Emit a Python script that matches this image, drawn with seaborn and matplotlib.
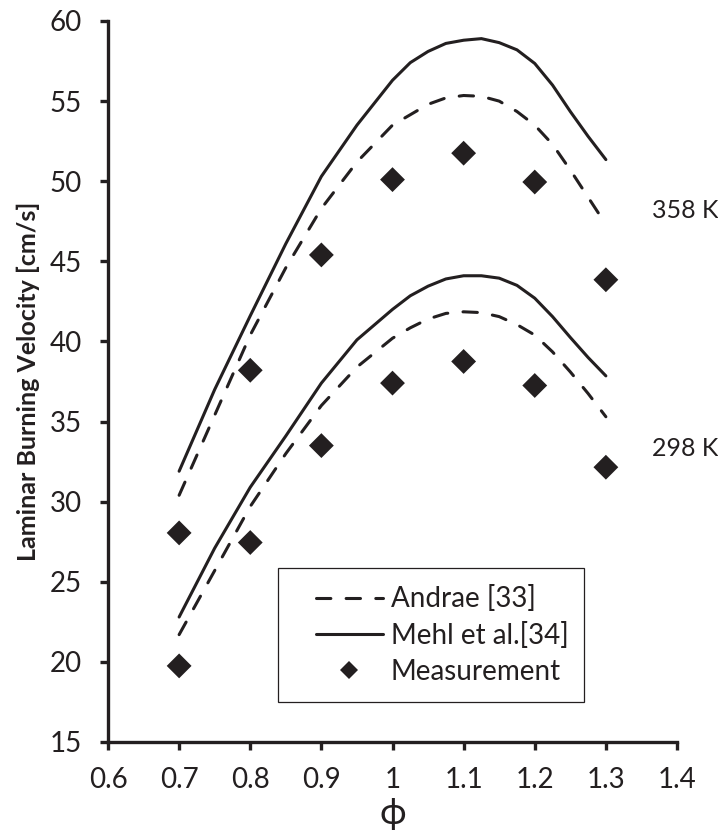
import matplotlib
matplotlib.use("Agg")
import matplotlib.pyplot as plt
from matplotlib.lines import Line2D
from matplotlib.patches import Rectangle
import pandas as pd
import seaborn as sns

# Equivalence ratio grid of the model curves (finer around the peak)
phi_model = [0.70, 0.75, 0.80, 0.85, 0.90, 0.95, 1.00, 1.025, 1.05, 1.075, 1.10,
             1.125, 1.15, 1.175, 1.20, 1.225, 1.25, 1.275, 1.30]

# Model predictions, laminar burning velocity [cm/s]
andrae_298 = [21.7, 25.7, 29.7, 33.0, 36.0, 38.4, 40.2, 40.85, 41.4, 41.75, 41.85,
              41.8, 41.55, 41.05, 40.4, 39.35, 38.1, 36.75, 35.3]
mehl_298 = [22.8, 27.1, 30.9, 34.1, 37.4, 40.1, 42.0, 42.85, 43.45, 43.9, 44.1,
            44.1, 43.95, 43.5, 42.7, 41.55, 40.25, 39.0, 37.85]
andrae_358 = [30.4, 35.4, 40.4, 44.6, 48.3, 51.2, 53.5, 54.15, 54.8, 55.2, 55.35,
              55.3, 55.0, 54.35, 53.5, 52.3, 50.7, 49.0, 47.3]
mehl_358 = [31.9, 37.0, 41.6, 46.1, 50.3, 53.5, 56.3, 57.4, 58.1, 58.6, 58.8,
            58.9, 58.65, 58.2, 57.35, 56.0, 54.35, 52.8, 51.35]

# Measurements
phi_meas = [0.7, 0.8, 0.9, 1.0, 1.1, 1.2, 1.3]
meas_298 = [19.75, 27.45, 33.5, 37.4, 38.75, 37.25, 32.15]
meas_358 = [28.05, 38.2, 45.4, 50.1, 51.75, 49.95, 43.85]

labels = ["Andrae [33]", "Mehl et al.[34]", "Measurement"]
temps = ["298 K", "358 K"]

ink = "#231f20"

sns.set_style("ticks")
plt.rcParams["font.family"] = ["Lato", "DejaVu Sans"]
plt.rcParams["text.color"] = ink
plt.rcParams["axes.labelcolor"] = ink
plt.rcParams["xtick.color"] = ink
plt.rcParams["ytick.color"] = ink

rows = []
for model, T, vals in [(labels[0], temps[0], andrae_298), (labels[1], temps[0], mehl_298),
                       (labels[0], temps[1], andrae_358), (labels[1], temps[1], mehl_358)]:
    for p, v in zip(phi_model, vals):
        rows.append({"phi": p, "velocity": v, "model": model, "T": T})
models = pd.DataFrame(rows)

meas = pd.DataFrame({
    "phi": phi_meas + phi_meas,
    "velocity": meas_298 + meas_358,
    "T": [temps[0]] * len(phi_meas) + [temps[1]] * len(phi_meas),
})

fig = plt.figure(figsize=(7.18, 8.38), dpi=100)
ax = fig.add_axes([108 / 718, 1 - 742 / 838, (677 - 108) / 718, (742 - 21) / 838])

dash = (0, (4.7, 5.0))
sns.lineplot(data=models[models.model == labels[0]], x="phi", y="velocity", units="T",
             estimator=None, color=ink, lw=2.2, linestyle=dash, dash_capstyle="round",
             dash_joinstyle="round", legend=False, ax=ax)
sns.lineplot(data=models[models.model == labels[1]], x="phi", y="velocity", units="T",
             estimator=None, color=ink, lw=2.2, linestyle="-", solid_capstyle="round",
             solid_joinstyle="round", legend=False, ax=ax)
sns.scatterplot(data=meas, x="phi", y="velocity", marker="D", s=160, color=ink,
                edgecolor="none", linewidth=0, legend=False, zorder=3, ax=ax)

ax.set_xlim(0.6, 1.4)
ax.set_ylim(15, 60)
ax.set_xticks([0.6, 0.7, 0.8, 0.9, 1.0, 1.1, 1.2, 1.3, 1.4])
ax.set_xticklabels(["0.6", "0.7", "0.8", "0.9", "1", "1.1", "1.2", "1.3", "1.4"])
ax.set_yticks([15, 20, 25, 30, 35, 40, 45, 50, 55, 60])

for side in ["top", "right"]:
    ax.spines[side].set_visible(False)
for side in ["left", "bottom"]:
    ax.spines[side].set_linewidth(2.4)
    ax.spines[side].set_color(ink)
    ax.spines[side].set_capstyle("projecting")
ax.tick_params(axis="both", direction="out", length=6, width=2.4, labelsize=20)
ax.tick_params(axis="y", pad=13)
ax.tick_params(axis="x", pad=12)

ax.set_xlabel("ϕ", fontsize=26, labelpad=3)
ax.set_ylabel("Laminar Burning Velocity [cm/s]", fontsize=18, fontweight="bold", labelpad=7)

ax.text(1.365, 48.2, temps[1], fontsize=18, va="center", ha="left")
ax.text(1.365, 33.3, temps[0], fontsize=18, va="center", ha="left")

handles = [
    Line2D([], [], color=ink, lw=2.2, linestyle=dash, dash_capstyle="round"),
    Line2D([], [], color=ink, lw=2.2, linestyle="-"),
    Line2D([], [], color=ink, linestyle="none", marker="D", markersize=8.7, markeredgewidth=0),
]
ax.legend(handles, labels, loc="center left", bbox_to_anchor=((302 - 108) / 569, (742 - 635) / 721),
          frameon=False, fontsize=20, borderpad=0, handlelength=2.4, handletextpad=0.3,
          labelspacing=0.35)
ax.add_patch(Rectangle(((278 - 108) / 569, (742 - 702) / 721), (584 - 278) / 569, (702 - 568) / 721,
                       transform=ax.transAxes, fill=False, edgecolor=ink, lw=0.9, zorder=4))

fig.savefig("out.png", dpi=100)
